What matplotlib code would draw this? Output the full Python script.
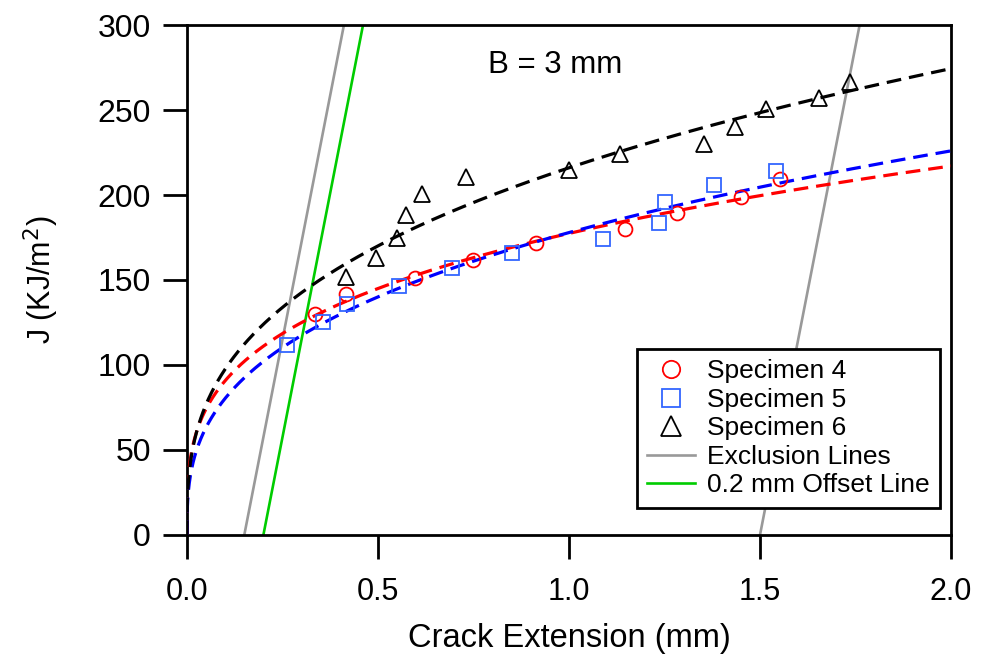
import numpy as np
import matplotlib
matplotlib.use('Agg')
import matplotlib.pyplot as plt

plt.rcParams['font.family'] = ['Liberation Sans', 'DejaVu Sans']

# J-R data, crack extension (mm) vs J (kJ/m^2)
da_4 = [0.335, 0.416, 0.597, 0.749, 0.914, 1.147, 1.283, 1.450, 1.552]
j_4 = [130, 141.5, 151, 161.5, 171.5, 180, 189.5, 199, 209.5]

da_5 = [0.262, 0.356, 0.419, 0.555, 0.694, 0.851, 1.089, 1.236, 1.251, 1.380, 1.542]
j_5 = [112, 125, 136, 146.5, 157, 166, 174, 183.5, 196, 206, 214]

da_6 = [0.416, 0.494, 0.549, 0.573, 0.615, 0.730, 1.000, 1.133, 1.353, 1.435,
        1.516, 1.655, 1.736]
j_6 = [151.5, 163, 174.5, 188, 200.5, 210.5, 215, 224, 230, 240, 250.5, 257, 266.5]

# power-law fits J = C * da^p
fit_C = {'4': 177.4, '5': 177.9, '6': 216.0}
fit_p = {'4': 0.291, '5': 0.345, '6': 0.345}

# blunting / exclusion lines, slope in kJ/m^2 per mm
slope = 1150.0
excl_offsets = [0.15, 1.5]
offset_line = 0.2

fig = plt.figure(figsize=(9.81, 6.65), dpi=100)
ax = fig.add_axes([0.1906, 0.1955, 0.7788, 0.7669])

da = np.linspace(0, 2.0, 2000)
j_line = np.array([0, 300.0])

# exclusion and offset lines
for i, off in enumerate(excl_offsets):
    ax.plot(off + j_line / slope, j_line, color='#999999', lw=1.9,
            label='Exclusion Lines' if i == 0 else None, zorder=2)
ax.plot(offset_line + j_line / slope, j_line, color='#00CC00', lw=1.9,
        label='0.2 mm Offset Line', zorder=2)

# fitted curves
for key, col in [('4', '#FF0000'), ('5', '#0000FF'), ('6', 'black')]:
    ax.plot(da, fit_C[key] * da ** fit_p[key], color=col, lw=2.3,
            linestyle=(0, (4.6, 2.5)), zorder=3)

# data points
ax.plot(da_4, j_4, 'o', ms=10, mfc='none', mec='#FF0000', mew=1.3,
        label='Specimen 4', zorder=4)
ax.plot(da_5, j_5, 's', ms=10.5, mfc='none', mec='#3366FF', mew=1.3,
        label='Specimen 5', zorder=4)
ax.plot(da_6, j_6, '^', ms=11.5, mfc='none', mec='black', mew=1.3,
        label='Specimen 6', zorder=4)

ax.set_xlim(0, 2.0)
ax.set_ylim(0, 300)
ax.set_xticks([0, 0.5, 1.0, 1.5, 2.0])
ax.set_xticklabels(['0.0', '0.5', '1.0', '1.5', '2.0'])
ax.set_yticks([0, 50, 100, 150, 200, 250, 300])

for s in ax.spines.values():
    s.set_linewidth(2)
ax.tick_params(axis='both', direction='out', length=17, width=2)
ax.tick_params(axis='x', pad=13, labelsize=22)
ax.tick_params(axis='y', pad=9, labelsize=23)

ax.set_xlabel('Crack Extension (mm)', fontsize=23.5, labelpad=12)
ax.set_ylabel('J (KJ/m$^2$)', fontsize=22, labelpad=26)

ax.text(0.4817, 0.9216, 'B = 3 mm', transform=ax.transAxes, fontsize=22.5,
        ha='center', va='center')

handles, labels = ax.get_legend_handles_labels()
order = ['Specimen 4', 'Specimen 5', 'Specimen 6', 'Exclusion Lines',
         '0.2 mm Offset Line']
hd = dict(zip(labels, handles))
leg = ax.legend([hd[k] for k in order], order, loc='lower right',
                bbox_to_anchor=(0.9856, 0.053), bbox_transform=ax.transAxes,
                borderaxespad=0, fontsize=19, frameon=True, fancybox=False,
                edgecolor='black', framealpha=1, handlelength=1.8,
                handletextpad=0.45, labelspacing=0.17, borderpad=0.4,
                markerscale=1.25)
leg.get_frame().set_linewidth(2)

fig.savefig('out.png', dpi=100)
